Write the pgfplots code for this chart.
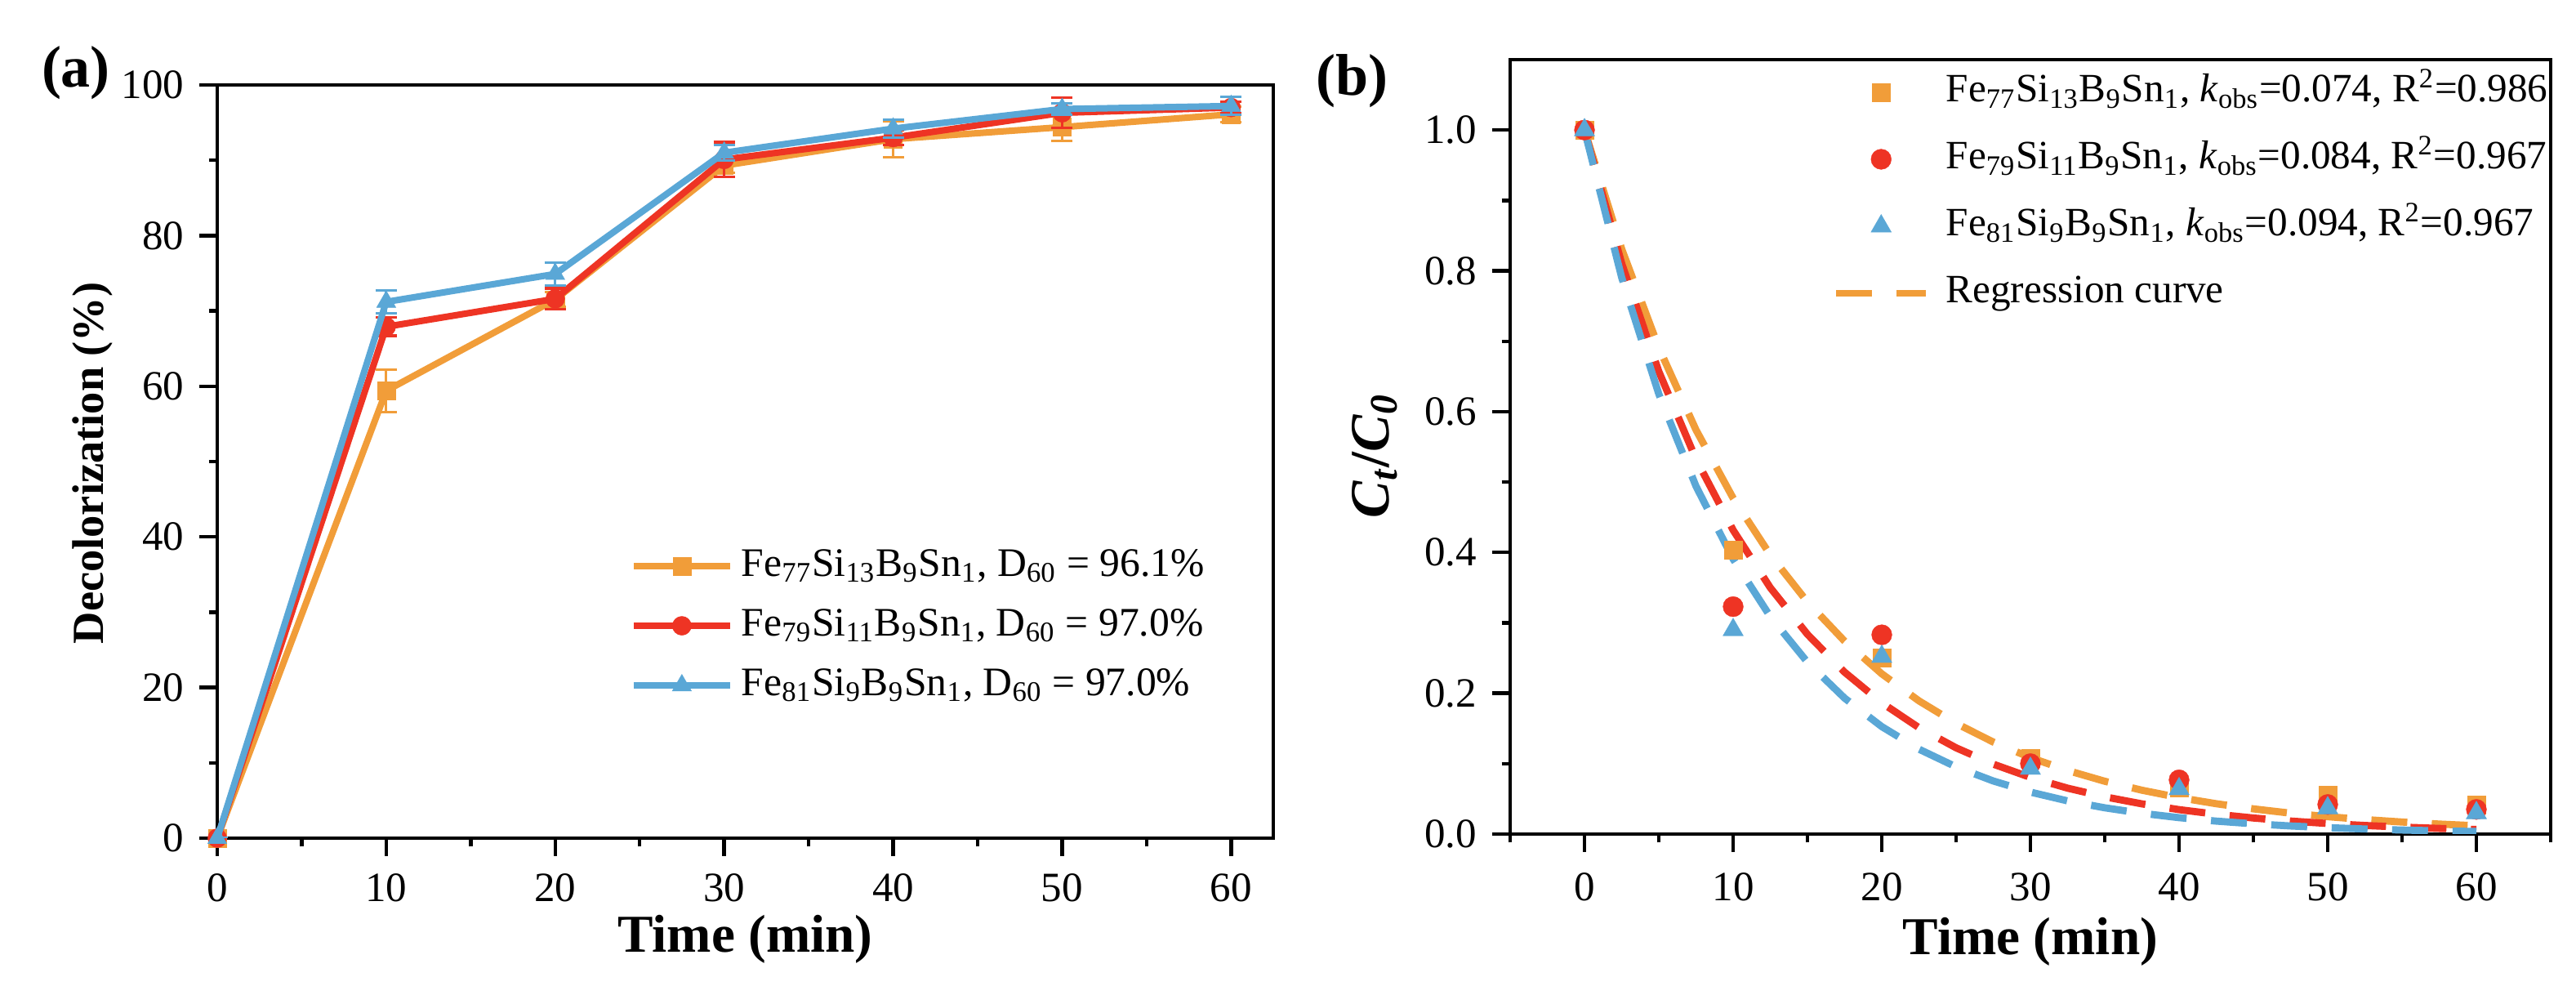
\documentclass[border=0pt]{standalone}
\usepackage{fontspec}
\setmainfont{Liberation Serif}
\usepackage{pgfplots}
\usepackage{pgfplotstable}
\pgfplotsset{compat=1.18}
\definecolor{cor}{RGB}{241,157,57}
\definecolor{cred}{RGB}{238,52,36}
\definecolor{cblu}{RGB}{90,167,214}
\newcommand\fs[1]{\fontsize{#1}{#1}\selectfont}
\newcommand\sub[1]{\textsubscript{#1}}

\pgfplotstableread{
x y e
0 0 0
10 59.4 2.8
20 71.5 1.0
30 89.3 1.0
40 92.8 2.4
50 94.4 1.8
60 96.1 1.0
}\tAo
\pgfplotstableread{
x y e
0 0 0
10 67.9 1.2
20 71.6 1.4
30 90.1 2.3
40 93.0 1.0
50 96.3 2.0
60 97.0 0.8
}\tAr
\pgfplotstableread{
x y e
0 0 0
10 71.2 1.5
20 74.9 1.5
30 91.0 1.0
40 94.2 1.2
50 96.8 0.8
60 97.2 1.2
}\tAb

\pgfplotstableread{
x y
0 1.0
10 0.403
20 0.250
30 0.108
40 0.066
50 0.055
60 0.042
}\tBo
\pgfplotstableread{
x y
0 1.0
10 0.323
20 0.283
30 0.100
40 0.077
50 0.042
60 0.035
}\tBr
\pgfplotstableread{
x y
0 1.0
10 0.290
20 0.252
30 0.093
40 0.064
50 0.037
60 0.030
}\tBb

% regression curves
\pgfplotstableread{
x y
0 1
2.5 0.8311
5 0.6907
7.5 0.5741
10 0.4771
12.5 0.3965
15 0.3296
17.5 0.2739
20 0.2276
22.5 0.1892
25 0.1572
27.5 0.1307
30 0.1086
32.5 0.0903
35 0.0750
37.5 0.0623
40 0.0518
42.5 0.0431
45 0.0358
47.5 0.0297
50 0.0247
52.5 0.0206
55 0.0171
57.5 0.0142
60 0.0118
}\tCo
\pgfplotstableread{
x y
0 1
2.5 0.8106
5 0.6570
7.5 0.5326
10 0.4317
12.5 0.3499
15 0.2837
17.5 0.2299
20 0.1864
22.5 0.1511
25 0.1225
27.5 0.0993
30 0.0805
32.5 0.0652
35 0.0529
37.5 0.0429
40 0.0347
42.5 0.0282
45 0.0228
47.5 0.0185
50 0.0150
52.5 0.0122
55 0.0099
57.5 0.0080
60 0.0065
}\tCr
\pgfplotstableread{
x y
0 1
2.5 0.7906
5 0.6250
7.5 0.4941
10 0.3906
12.5 0.3088
15 0.2441
17.5 0.1930
20 0.1526
22.5 0.1206
25 0.0954
27.5 0.0754
30 0.0596
32.5 0.0471
35 0.0373
37.5 0.0295
40 0.0233
42.5 0.0184
45 0.0146
47.5 0.0115
50 0.0091
52.5 0.0072
55 0.0057
57.5 0.0045
60 0.0036
}\tCb

\pgfplotsset{
  myaxis/.style={
    scale only axis,
    axis line style={line width=1.1pt},
    tick style={line width=1.1pt, black},
    major tick length=5.5pt,
    minor tick length=2.6pt,
    tick align=outside,
    xtick pos=bottom, ytick pos=left,
    ticklabel style={font=\fs{12.75}, inner sep=0pt},
    /pgf/number format/assume math mode=true,
    clip mode=individual,
  }
}

\begin{document}
\begin{tikzpicture}[x=1pt,y=1pt]
\path (0,0) rectangle (788.5,304.5);

% ---------------- panel (a)
\begin{axis}[myaxis,
  at={(66.5pt,48pt)}, anchor=south west,
  width=323.25pt, height=230.5pt,
  xmin=0, xmax=62.5, ymin=0, ymax=100,
  xtick={0,10,...,60}, minor xtick={5,15,...,55},
  ytick={0,20,...,100}, minor ytick={10,30,...,90},
  xticklabel shift=5.2pt, yticklabel shift=4.5pt,
  xlabel={\textbf{Time (min)}},
  xlabel style={at={(axis description cs:0.5,-0.1508)}, anchor=base, font=\fs{16.3}, inner sep=0pt},
  ylabel={\textbf{Decolorization (\%)}},
  ylabel style={at={(axis description cs:-0.1183,0.498)}, anchor=center, font=\fs{13.6}, inner sep=0pt},
  legend style={draw=none, fill=none, at={(0.3906,0.388)}, anchor=north west,
    inner sep=0pt, row sep=6.25pt, font=\fs{12.4},
    nodes={inner sep=0pt, text height=9pt, text depth=3pt, anchor=west},
    /tikz/every odd column/.append style={column sep=2.5pt}},
  legend cell align=left,
  legend image code/.code={\draw[mark repeat=2,mark phase=2,#1] plot coordinates {(0pt,0pt) (14.75pt,0pt) (29.5pt,0pt)};},
]
\addplot[cor, line width=2pt, mark=square*, mark size=2.75pt, mark options={solid, draw=cor, line width=0.1pt, fill=cor},
  error bars/.cd, y dir=both, y explicit,
  error bar style={line width=0.8pt, cor},
  error mark options={rotate=90, mark size=3.25pt, line width=0.8pt, cor}]
  table[x=x, y=y, y error=e] {\tAo};
\addlegendentry{Fe\sub{77}Si\sub{13}B\sub{9}Sn\sub{1}, D\sub{60} = 96.1\%}
\addplot[cred, line width=2pt, mark=*, mark size=2.9pt, mark options={solid, draw=cred, line width=0.1pt, fill=cred},
  error bars/.cd, y dir=both, y explicit,
  error bar style={line width=0.8pt, cred},
  error mark options={rotate=90, mark size=3.25pt, line width=0.8pt, cred}]
  table[x=x, y=y, y error=e] {\tAr};
\addlegendentry{Fe\sub{79}Si\sub{11}B\sub{9}Sn\sub{1}, D\sub{60} = 97.0\%}
\addplot[cblu, line width=2pt, mark=triangle*, mark size=3.4pt, mark options={solid, draw=cblu, line width=0.1pt, fill=cblu},
  error bars/.cd, y dir=both, y explicit,
  error bar style={line width=0.8pt, cblu},
  error mark options={rotate=90, mark size=3.25pt, line width=0.8pt, cblu}]
  table[x=x, y=y, y error=e] {\tAb};
\addlegendentry{Fe\sub{81}Si\sub{9}B\sub{9}Sn\sub{1}, D\sub{60} = 97.0\%}
\end{axis}

% ---------------- panel (b)
\begin{axis}[myaxis,
  at={(462.25pt,49.25pt)}, anchor=south west,
  width=318.5pt, height=237pt,
  xmin=-5, xmax=65, ymin=0, ymax=1.1,
  xtick={0,10,...,60}, minor xtick={-5,5,...,65},
  ytick={0,0.2,...,1.0}, minor ytick={0.1,0.3,...,0.9},
  yticklabel style={/pgf/number format/.cd, fixed, fixed zerofill, precision=1},
  xticklabel shift=6.2pt, yticklabel shift=4.5pt,
  xlabel={\textbf{Time (min)}},
  xlabel style={at={(axis description cs:0.5,-0.156)}, anchor=base, font=\fs{16.3}, inner sep=0pt},
  ylabel={\textbf{\textit{C}\sub{\textit{t}}/\textit{C}\sub{\textit{0}}}},
  ylabel style={at={(axis description cs:-0.1303,0.488)}, anchor=center, font=\fs{17}, inner sep=0pt},
  legend style={draw=none, fill=none, at={(0.3093,0.984)}, anchor=north west,
    inner sep=0pt, row sep=8.5pt, font=\fs{12.3},
    nodes={inner sep=0pt, text height=9pt, text depth=3pt, anchor=west},
    /tikz/every odd column/.append style={column sep=5pt}},
  legend cell align=left,
  legend image code/.code={\pgfpathrectangle{\pgfpoint{0pt}{-1pt}}{\pgfpoint{27.5pt}{2pt}}\pgfusepath{discard}\draw[mark repeat=2,mark phase=2,#1] plot coordinates {(0pt,0pt) (13.75pt,0pt) (27.5pt,0pt)};},
]
\addplot[forget plot, cor, line width=2.2pt, dash pattern=on 11pt off 7.5pt] table[x=x,y=y] {\tCo};
\addplot[forget plot, cred, line width=2.2pt, dash pattern=on 11pt off 7.5pt] table[x=x,y=y] {\tCr};
\addplot[forget plot, cblu, line width=2.2pt, dash pattern=on 11pt off 7.5pt] table[x=x,y=y] {\tCb};
\addplot[only marks, cor, mark=square*, mark size=2.75pt, mark options={draw=cor, line width=0.1pt, fill=cor}] table[x=x,y=y] {\tBo};
\addlegendentry{Fe\sub{77}Si\sub{13}B\sub{9}Sn\sub{1}, \textit{k}\sub{obs}=0.074, R\textsuperscript{2}=0.986}
\addplot[only marks, cred, mark=*, mark size=3.1pt, mark options={draw=cred, line width=0.1pt, fill=cred}] table[x=x,y=y] {\tBr};
\addlegendentry{Fe\sub{79}Si\sub{11}B\sub{9}Sn\sub{1}, \textit{k}\sub{obs}=0.084, R\textsuperscript{2}=0.967}
\addplot[only marks, cblu, mark=triangle*, mark size=3.6pt, mark options={draw=cblu, line width=0.1pt, fill=cblu}] table[x=x,y=y] {\tBb};
\addlegendentry{Fe\sub{81}Si\sub{9}B\sub{9}Sn\sub{1}, \textit{k}\sub{obs}=0.094, R\textsuperscript{2}=0.967}
\addlegendimage{cor, line width=2.2pt, dash pattern=on 11pt off 7.5pt}
\addlegendentry{Regression curve}
\end{axis}

\node[font=\fs{18}\bfseries, inner sep=0pt, anchor=center] at (23.25,282.25) {(a)};
\node[font=\fs{18}\bfseries, inner sep=0pt, anchor=center] at (413.75,279.75) {(b)};
\end{tikzpicture}
\end{document}
